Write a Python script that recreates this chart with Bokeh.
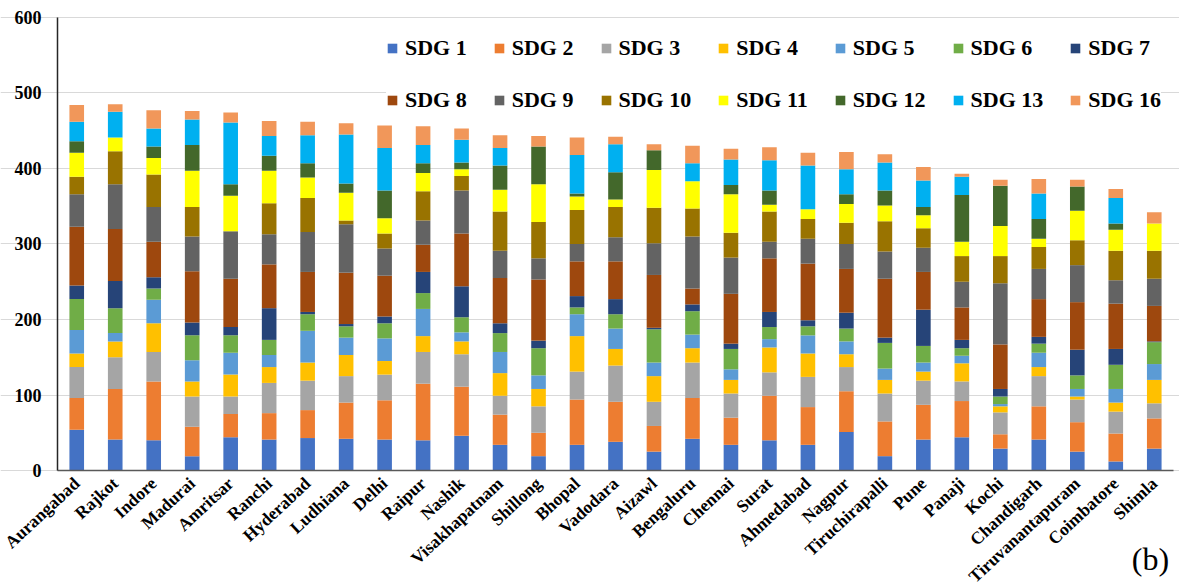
from bokeh.plotting import figure
from bokeh.models import (ColumnDataSource, Range1d, FixedTicker,
                          Legend, LegendItem, Label)
from bokeh.embed import file_html
from bokeh.resources import INLINE

cities = ["Aurangabad", "Rajkot", "Indore", "Madurai", "Amritsar", "Ranchi",
          "Hyderabad", "Ludhiana", "Delhi", "Raipur", "Nashik", "Visakhapatnam",
          "Shillong", "Bhopal", "Vadodara", "Aizawl", "Bengaluru", "Chennai",
          "Surat", "Ahmedabad", "Nagpur", "Tiruchirapalli", "Pune", "Panaji",
          "Kochi", "Chandigarh", "Tiruvanantapuram", "Coimbatore", "Shimla"]

sdg1 = [54, 41, 40, 19, 44, 41, 43, 42, 41, 40, 46, 34, 19, 34, 38, 25, 42, 34, 40, 34, 51, 19, 41, 44, 29, 41, 25, 12, 29]
sdg2 = [42, 67, 78, 39, 31, 35, 37, 48, 52, 75, 65, 40, 31, 60, 53, 34, 54, 36, 59, 50, 54, 46, 46, 48, 19, 44, 39, 37, 40]
sdg3 = [41, 42, 39, 40, 23, 40, 39, 35, 34, 42, 43, 25, 35, 37, 48, 32, 47, 32, 31, 40, 32, 37, 32, 26, 29, 40, 30, 29, 20]
sdg4 = [18, 21, 38, 20, 29, 21, 24, 28, 18, 21, 17, 30, 23, 47, 22, 34, 19, 18, 33, 31, 17, 18, 12, 24, 8, 12, 4, 12, 31]
sdg5 = [31, 11, 31, 28, 29, 16, 42, 23, 30, 36, 12, 28, 18, 29, 27, 18, 18, 14, 11, 24, 17, 15, 12, 10, 3, 19, 10, 18, 21]
sdg6 = [41, 33, 15, 33, 23, 20, 22, 15, 20, 21, 20, 25, 36, 9, 19, 44, 31, 27, 16, 12, 17, 34, 22, 10, 10, 12, 18, 32, 29]
sdg7 = [18, 36, 15, 17, 11, 42, 3, 3, 9, 28, 41, 13, 10, 15, 20, 2, 9, 7, 20, 8, 21, 7, 48, 11, 10, 9, 34, 21, 1]
sdg8 = [78, 69, 47, 68, 64, 58, 53, 68, 54, 36, 70, 60, 81, 46, 50, 70, 21, 66, 71, 75, 58, 78, 50, 43, 59, 50, 63, 60, 47]
sdg9 = [43, 59, 46, 46, 63, 40, 53, 64, 36, 32, 57, 36, 28, 23, 32, 42, 69, 48, 22, 33, 33, 36, 32, 34, 81, 40, 49, 31, 36]
sdg10 = [23, 44, 43, 39, 0, 41, 45, 5, 20, 39, 19, 52, 48, 45, 40, 47, 37, 33, 40, 26, 28, 40, 26, 34, 36, 29, 33, 39, 37]
sdg11 = [32, 18, 22, 48, 47, 43, 27, 37, 20, 24, 9, 29, 50, 18, 10, 50, 36, 51, 9, 13, 25, 21, 17, 19, 40, 11, 39, 28, 36]
sdg12 = [15, 0, 15, 34, 15, 20, 19, 12, 37, 13, 9, 32, 50, 4, 36, 26, 0, 12, 19, 0, 13, 20, 11, 62, 53, 26, 32, 8, 0]
sdg13 = [26, 34, 24, 34, 82, 26, 37, 65, 56, 24, 30, 23, 0, 51, 37, 0, 24, 34, 40, 58, 33, 37, 35, 24, 0, 34, 0, 34, 0]
sdg16 = [22, 10, 24, 11, 13, 20, 18, 15, 30, 25, 15, 17, 14, 23, 10, 8, 23, 14, 17, 17, 23, 11, 18, 4, 8, 19, 9, 12, 15]

series_names = ["SDG 1", "SDG 2", "SDG 3", "SDG 4", "SDG 5", "SDG 6", "SDG 7",
                "SDG 8", "SDG 9", "SDG 10", "SDG 11", "SDG 12", "SDG 13", "SDG 16"]
series_values = [sdg1, sdg2, sdg3, sdg4, sdg5, sdg6, sdg7,
                 sdg8, sdg9, sdg10, sdg11, sdg12, sdg13, sdg16]
colors = ["#4472C4", "#ED7D31", "#A5A5A5", "#FFC000", "#5B9BD5", "#70AD47",
          "#264478", "#9E480E", "#636363", "#997300", "#FFFF00", "#43682B",
          "#00B0F0", "#F1975A"]
y_ticks = [0, 100, 200, 300, 400, 500, 600]

# one slot per city along x, bars centred on the slot index
positions = list(range(len(cities)))
data = {"pos": positions}
for name, vals in zip(series_names, series_values):
    data[name] = vals
source = ColumnDataSource(data)

serif = "Liberation Serif"

# The frame covers the whole canvas; both axes are pinned at zero so that the
# tick labels, the legend and the panel tag all live inside the frame.
n = len(cities)
slot_px = 1116 / n
p = figure(width=1179, height=585,
           x_range=Range1d(-0.5 - 57 / slot_px, n - 0.5 + 6 / slot_px),
           y_range=Range1d(-152.3, 622.5), output_backend="svg",
           toolbar_location=None, min_border=0, outline_line_color=None)

renderers = p.vbar_stack(series_names, x="pos", width=0.38, color=colors,
                         source=source, line_color=None)

p.xgrid.grid_line_color = None
p.ygrid.grid_line_color = "#D9D9D9"
p.ygrid.grid_line_width = 1.2

p.yaxis.ticker = FixedTicker(ticks=y_ticks)
p.yaxis.fixed_location = -0.5
p.yaxis.bounds = (0, 600)
p.yaxis.major_label_text_font = serif
p.yaxis.major_label_text_font_style = "bold"
p.yaxis.major_label_text_font_size = "18px"
p.yaxis.major_label_text_color = "#000000"
p.yaxis.major_tick_line_color = None
p.yaxis.minor_tick_line_color = None
p.yaxis.axis_line_color = "#262626"
p.yaxis.axis_line_width = 1.5
p.yaxis.major_label_standoff = 10

p.xaxis.ticker = FixedTicker(ticks=positions)
p.xaxis.major_label_overrides = {i: c for i, c in zip(positions, cities)}
p.xaxis.fixed_location = 0
p.xaxis.bounds = (-0.5, n - 0.5)
p.xaxis.major_label_orientation = 0.75
p.xaxis.major_label_text_font = serif
p.xaxis.major_label_text_font_style = "bold"
p.xaxis.major_label_text_font_size = "17.5px"
p.xaxis.major_label_text_color = "#000000"
p.xaxis.major_tick_line_color = None
p.xaxis.minor_tick_line_color = None
p.xaxis.axis_line_color = "#595959"
p.xaxis.axis_line_width = 1.5
p.xaxis.major_label_standoff = 4

legend = Legend(
    items=[LegendItem(label=s, renderers=[r]) for s, r in zip(series_names, renderers)],
    location=(386, 472), orientation="horizontal", ncols=7,
    label_text_font=serif, label_text_font_style="bold",
    label_text_font_size="22px", label_text_color="#000000",
    glyph_width=12, glyph_height=12, label_height=22, label_standoff=7,
    spacing=26, padding=0, margin=0, border_line_color=None,
    background_fill_color="white", background_fill_alpha=1.0)
p.add_layout(legend, "center")

# panel tag under the last category
tag = Label(x=n - 1.1, y=-117, text="(b)",
            text_font=serif, text_font_size="32px", text_color="#000000",
            text_align="center", text_baseline="middle")
p.add_layout(tag)

open("out.html", "w").write(file_html(p, INLINE))
